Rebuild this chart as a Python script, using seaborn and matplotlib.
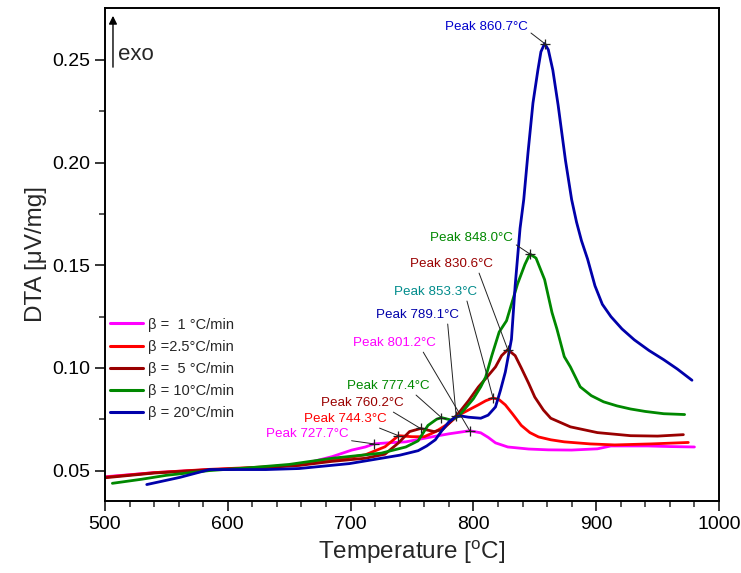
import numpy as np
import pandas as pd
import matplotlib.pyplot as plt
import seaborn as sns
from matplotlib.lines import Line2D

# ---- style ----
sns.set_theme(style="ticks")
plt.rcParams['font.family'] = ['Liberation Sans', 'DejaVu Sans']
plt.rcParams['mathtext.fontset'] = 'custom'
plt.rcParams['mathtext.rm'] = 'Liberation Sans'
plt.rcParams['mathtext.it'] = 'Liberation Sans:italic'

# ---- data ----
rates = ['1', '2.5', '5', '10', '20']
legend_labels = ['\u03b2 =  1 \u00b0C/min', '\u03b2 =2.5\u00b0C/min', '\u03b2 =  5 \u00b0C/min',
                 '\u03b2 = 10\u00b0C/min', '\u03b2 = 20\u00b0C/min']
colors = ['#FF00FF', '#FF0000', '#990000', '#008800', '#0000AA']

t_1 = [500, 540, 580, 620, 660, 685, 701, 712, 719, 730, 745, 766, 780, 797, 806, 812, 818, 828,
       845, 861, 880, 901, 912, 942, 960, 980]
v_1 = [0.0470, 0.0490, 0.0503, 0.0512, 0.0530, 0.0568, 0.0600, 0.0615, 0.0630, 0.0635, 0.0640,
       0.0664, 0.0679, 0.0694, 0.0684, 0.0662, 0.0635, 0.0615, 0.0605, 0.0601, 0.0600, 0.0606,
       0.0620, 0.0620, 0.0617, 0.0615]

t_2_5 = [500, 540, 585, 631, 658, 685, 712, 728, 739, 750, 760, 769, 780, 788, 796, 804, 810, 816,
         821, 826, 832, 839, 846, 853, 863, 874, 895, 915, 945, 975]
v_2_5 = [0.0468, 0.0490, 0.0506, 0.0518, 0.0528, 0.0550, 0.0577, 0.0616, 0.0670, 0.0665, 0.0665,
         0.0689, 0.0730, 0.0770, 0.0795, 0.0820, 0.0840, 0.0854, 0.0845, 0.0820, 0.0775, 0.0720,
         0.0685, 0.0664, 0.0650, 0.0640, 0.0630, 0.0625, 0.0630, 0.0637]

t_5 = [500, 540, 585, 631, 658, 685, 712, 728, 739, 748, 757, 768, 775, 781, 788, 796, 804, 811,
       818, 823, 828, 834, 839, 845, 850, 857, 863, 879, 901, 928, 950, 971]
v_5 = [0.0465, 0.0488, 0.0504, 0.0515, 0.0525, 0.0545, 0.0560, 0.0580, 0.0635, 0.0690, 0.0705,
       0.0690, 0.0700, 0.0735, 0.0780, 0.0840, 0.0907, 0.0955, 0.1005, 0.1060, 0.1089, 0.1060,
       0.1000, 0.0925, 0.0858, 0.0795, 0.0755, 0.0713, 0.0685, 0.0670, 0.0668, 0.0675]

t_10 = [506, 530, 550, 585, 620, 650, 685, 725, 745, 755, 763, 770, 774, 778, 782, 788, 793, 800,
        806, 810, 815, 821, 827, 836, 842, 846, 851, 858, 864, 868, 874, 879, 887, 896, 906, 917,
        928, 940, 955, 972]
v_10 = [0.0438, 0.0458, 0.0477, 0.0500, 0.0515, 0.0530, 0.0560, 0.0585, 0.0615, 0.0645, 0.0720,
        0.0750, 0.0758, 0.0752, 0.0746, 0.0765, 0.0800, 0.0850, 0.0908, 0.0956, 0.1060, 0.1175,
        0.1230, 0.1410, 0.1505, 0.1555, 0.1535, 0.1430, 0.1270, 0.1190, 0.1055, 0.1005, 0.0908,
        0.0865, 0.0835, 0.0815, 0.0800, 0.0788, 0.0777, 0.0773]

t_20 = [534, 561, 585, 631, 658, 699, 725, 740, 755, 762, 769, 775, 780, 786, 791, 796, 806, 812,
        818, 822, 826, 831, 834, 838, 841, 844.5, 848.5, 852.5, 855, 858, 861, 864.7, 869, 875,
        880, 884, 888, 893, 899, 905, 912, 921, 931, 943, 955, 966, 978]
v_20 = [0.0432, 0.0467, 0.0505, 0.0505, 0.0510, 0.0534, 0.0560, 0.0575, 0.0597, 0.0620, 0.0650,
        0.0700, 0.0737, 0.0764, 0.0765, 0.0760, 0.0755, 0.0770, 0.0810, 0.0890, 0.0980, 0.1140,
        0.1400, 0.1680, 0.1820, 0.2050, 0.2290, 0.2450, 0.2540, 0.2580, 0.2550, 0.2450, 0.2280,
        0.2010, 0.1820, 0.1710, 0.1620, 0.1530, 0.1400, 0.1310, 0.1250, 0.1190, 0.1137, 0.1085,
        0.1040, 0.0995, 0.0940]

series_t = [t_1, t_2_5, t_5, t_10, t_20]
series_v = [v_1, v_2_5, v_5, v_10, v_20]

# peaks: label, marker position (data), label colour
peak_labels = ['Peak 860.7\u00b0C', 'Peak 848.0\u00b0C', 'Peak 830.6\u00b0C', 'Peak 853.3\u00b0C',
               'Peak 789.1\u00b0C', 'Peak 801.2\u00b0C', 'Peak 777.4\u00b0C', 'Peak 760.2\u00b0C',
               'Peak 744.3\u00b0C', 'Peak 727.7\u00b0C']
peak_t = [858, 846, 828, 816, 786, 797, 774, 757, 739, 719]
peak_v = [0.2580, 0.1555, 0.1089, 0.0854, 0.0764, 0.0694, 0.0758, 0.0705, 0.0670, 0.0630]
peak_colors = ['#0000CC', '#008800', '#990000', '#008B8B', '#0000AA', '#FF00FF', '#008800',
               '#990000', '#FF0000', '#FF00FF']
# where the label text sits and where its leader leaves the text box
label_pos = [(810.5, 0.2661), (798.5, 0.1633), (782.0, 0.1507), (769.0, 0.1371), (754.5, 0.1259),
             (736.0, 0.1122), (730.8, 0.0913), (709.5, 0.0830), (696.0, 0.0752), (664.5, 0.0679)]
label_rel = [(1.0, 0.2), (1.0, 0.1), (0.82, 0.0), (0.87, 0.0), (0.86, 0.0),
             (0.82, 0.0), (0.79, 0.0), (0.81, 0.0), (0.81, 0.0), (0.86, 0.1)]

df = pd.concat([pd.DataFrame({'T': t, 'DTA': v, 'rate': r})
                for t, v, r in zip(series_t, series_v, rates)], ignore_index=True)

# ---- plot ----
fig = plt.figure(figsize=(7.41, 5.73), dpi=100)
ax = fig.add_axes([0.1417, 0.1257, 0.8286, 0.8603])

sns.lineplot(data=df, x='T', y='DTA', hue='rate', palette=dict(zip(rates, colors)),
             sort=False, estimator=None, linewidth=2.0, legend=False, ax=ax)

for lab, pt, pv, c, pos, rel in zip(peak_labels, peak_t, peak_v, peak_colors, label_pos, label_rel):
    ax.plot(pt, pv, marker='+', color='#222222', ms=7, mew=0.9, zorder=5)
    ax.annotate(lab, xy=(pt, pv), xytext=pos, ha='center', va='center', fontsize=9.6, color=c,
                arrowprops=dict(arrowstyle='-', color='#222222', lw=0.7, relpos=rel,
                                shrinkA=0, shrinkB=0))

# exo arrow
ax.annotate('', xy=(506.5, 0.2715), xytext=(506.5, 0.2465),
            arrowprops=dict(arrowstyle='-|>', color='black', lw=1.0, mutation_scale=12,
                            shrinkA=0, shrinkB=0))
ax.text(510.5, 0.2527, 'exo', fontsize=16, ha='left', va='center')

handles = [Line2D([], [], color=c, lw=2.2) for c in colors]
ax.legend(handles, legend_labels, loc='upper left', bbox_to_anchor=(0.008, 0.372),
          frameon=False, fontsize=10.5, handlelength=2.3, handletextpad=0.3,
          labelspacing=0.55, borderpad=0, borderaxespad=0)

ax.set_xlim(500, 1000)
ax.set_ylim(0.0352, 0.2753)
ax.set_xticks([500, 600, 700, 800, 900, 1000])
ax.set_yticks([0.05, 0.10, 0.15, 0.20, 0.25])
ax.set_yticklabels(['0.05', '0.10', '0.15', '0.20', '0.25'])
ax.set_xticks(np.arange(520, 1000, 20), minor=True)
ax.set_yticks([0.075, 0.125, 0.175, 0.225], minor=True)
ax.tick_params(which='major', direction='out', length=7, width=1.1, labelsize=14,
               top=False, right=False, colors='black')
ax.tick_params(which='minor', direction='out', length=4, width=1.1, top=False, right=False)
ax.tick_params(axis='x', which='major', pad=4)
for s in ax.spines.values():
    s.set_linewidth(1.4)
    s.set_color('black')

ax.set_xlabel('Temperature [$^{\\mathrm{o}}$C]', fontsize=17.5)
ax.set_ylabel('DTA [\u03bcV/mg]', fontsize=17.5)

fig.savefig('out.png', dpi=100)
